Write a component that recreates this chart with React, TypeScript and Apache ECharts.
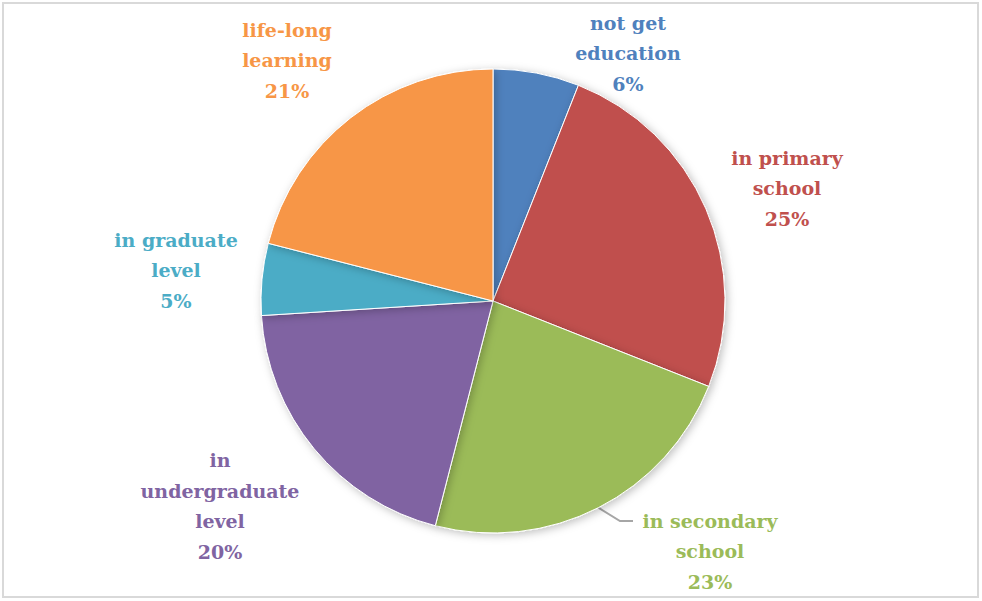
import React, { useEffect, useRef } from "react";
import * as echarts from "echarts";

const categories = [
  "not get\neducation",
  "in primary\nschool",
  "in secondary\nschool",
  "in\nundergraduate\nlevel",
  "in graduate\nlevel",
  "life-long\nlearning",
];
const values = [6, 25, 23, 20, 5, 21];
const colors = ["#4F81BD", "#C0504D", "#9BBB59", "#8064A2", "#4BACC6", "#F79646"];
const labelPositions: [number, number][] = [
  [628, 53],
  [787, 188],
  [710, 551],
  [220, 506],
  [176, 270],
  [287, 60],
];
const secondaryLineBend: [number, number][] = [
  [620, 521],
  [633, 521],
];

const FONT = "DejaVu Serif";

export default function App() {
  const ref = useRef<HTMLDivElement>(null);
  useEffect(() => {
    const chart = echarts.init(ref.current!, null, { renderer: "svg" });
    chart.setOption({
      animation: false,
      backgroundColor: "#ffffff",
      textStyle: { fontFamily: FONT },
      graphic: [
        {
          type: "rect",
          shape: { x: 3, y: 3, width: 975, height: 594 },
          style: { fill: "none", stroke: "#d9d9d9", lineWidth: 2 },
          silent: true,
        },
      ],
      series: [
        {
          type: "pie",
          center: [493, 301],
          radius: 232,
          startAngle: 90,
          clockwise: true,
          percentPrecision: 0,
          data: categories.map((name, i) => ({
            name,
            value: values[i],
            itemStyle: { color: colors[i] },
            label: { color: colors[i] },
            labelLine: { show: i === 2 },
          })),
          itemStyle: {
            borderColor: "#ffffff",
            borderWidth: 1,
            shadowBlur: 8,
            shadowColor: "rgba(0,0,0,0.25)",
            shadowOffsetX: 2,
            shadowOffsetY: 2,
          },
          label: {
            show: true,
            position: "outside",
            formatter: "{b}\n{d}%",
            fontFamily: FONT,
            fontWeight: "bold",
            fontSize: 19,
            lineHeight: 30.5,
            align: "center",
          },
          labelLine: {
            show: false,
            length: 10,
            length2: 10,
            lineStyle: { color: "#a6a6a6", width: 2 },
          },
          labelLayout: (params: any) => {
            const p = labelPositions[params.dataIndex];
            const out: any = {
              x: p[0],
              y: p[1],
              align: "center",
              verticalAlign: "middle",
            };
            if (params.dataIndex === 2 && params.labelLinePoints) {
              out.labelLinePoints = [
                params.labelLinePoints[0],
                secondaryLineBend[0],
                secondaryLineBend[1],
              ];
            }
            return out;
          },
        },
      ],
    });
    return () => chart.dispose();
  }, []);
  return (
    <div
      ref={ref}
      style={{ position: "fixed", left: 0, top: 0, width: 982, height: 601 }}
    />
  );
}
